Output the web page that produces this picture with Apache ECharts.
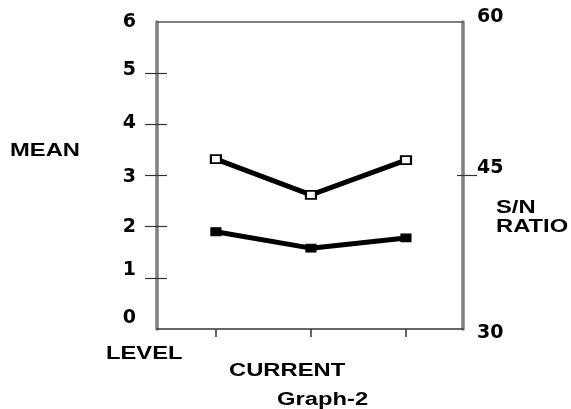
<!DOCTYPE html>
<html>
<head>
<meta charset="utf-8">
<script src="https://cdn.jsdelivr.net/npm/echarts@6/dist/echarts.min.js"></script>
<style>html,body{margin:0;padding:0;background:#fff}#c{width:571px;height:409px}</style>
</head>
<body>
<div id="c"></div>
<script>
// ---- data ----
var levels = [1, 2, 3];                 // current levels (1,2,3)
var meanValues = [1.90, 1.58, 1.78];    // MEAN (left axis, filled markers)
var snValues = [46.6, 43.1, 46.5];      // S/N RATIO (right axis, open squares)
var meanTicks = [1, 2, 3, 4, 5];
var snTicks = [45];

var FONT = '"Liberation Sans", Arial, sans-serif';
var TICKFONT = '"DejaVu Sans", sans-serif';
var chart = echarts.init(document.getElementById('c'), null, {renderer: 'canvas'});

function pairs(xs, ys) { return xs.map(function (x, i) { return [x, ys[i]]; }); }

// per-label vertical nudges (px up)
var leftNudge = {0: 11, 1: 8, 2: 0, 3: -2, 4: 1, 5: 3, 6: 0};
var rightNudge = {30: -4, 45: 7, 60: 5};
function richFor(nudges) {
  var r = {};
  Object.keys(nudges).forEach(function (k) {
    var n = nudges[k];
    r['v' + k] = {
      fontFamily: TICKFONT, fontSize: 19, fontWeight: 'bold', color: '#000',
      padding: n >= 0 ? [0, 0, 2 * n, 0] : [-2 * n, 0, 0, 0]
    };
  });
  return r;
}

var option = {
  backgroundColor: '#fff',
  animation: false,
  grid: {left: 157, right: 108, top: 22, bottom: 80, containLabel: false},
  xAxis: [{
    type: 'value', min: 0.38, max: 3.6, position: 'bottom',
    axisLine: {show: true, onZero: false, lineStyle: {color: '#333', width: 1.5}},
    axisTick: {show: true, customValues: levels, length: 8, lineStyle: {color: '#333', width: 1.5}},
    axisLabel: {show: false},
    splitLine: {show: false}
  }, {
    type: 'value', min: 0.38, max: 3.6, position: 'top',
    axisLine: {show: true, onZero: false, lineStyle: {color: '#555', width: 1.5}},
    axisTick: {show: false}, axisLabel: {show: false}, splitLine: {show: false}
  }],
  yAxis: [{
    type: 'value', min: 0, max: 6, interval: 1, position: 'left',
    axisLine: {show: true, onZero: false, lineStyle: {color: '#808080', width: 3.5}},
    axisTick: {show: true, customValues: meanTicks, length: 12, lineStyle: {color: '#333', width: 1.2}},
    axisLabel: {
      show: true, margin: 21, align: 'right',
      fontFamily: TICKFONT, fontSize: 19, fontWeight: 'bold', color: '#000',
      formatter: function (v) { return '{v' + v + '|' + v + '}'; },
      rich: richFor(leftNudge)
    },
    splitLine: {show: false}
  }, {
    type: 'value', min: 0, max: 6, interval: 1, position: 'left',
    axisLine: {show: false},
    axisTick: {show: true, inside: true, customValues: meanTicks, length: 10, lineStyle: {color: '#333', width: 1.2}},
    axisLabel: {show: false}, splitLine: {show: false}
  }, {
    type: 'value', min: 30, max: 60, interval: 15, position: 'right',
    axisLine: {show: true, onZero: false, lineStyle: {color: '#808080', width: 3.5}},
    axisTick: {show: true, customValues: snTicks, length: 14, lineStyle: {color: '#333', width: 1.2}},
    axisLabel: {
      show: true, margin: 14, align: 'left',
      fontFamily: TICKFONT, fontSize: 19, fontWeight: 'bold', color: '#000',
      formatter: function (v) { return '{v' + v + '|' + v + '}'; },
      rich: richFor(rightNudge)
    },
    splitLine: {show: false}
  }, {
    type: 'value', min: 30, max: 60, interval: 15, position: 'right',
    axisLine: {show: false},
    axisTick: {show: true, inside: true, customValues: snTicks, length: 6, lineStyle: {color: '#333', width: 1.2}},
    axisLabel: {show: false}, splitLine: {show: false}
  }],
  series: [{
    name: 'S/N RATIO', type: 'line', xAxisIndex: 0, yAxisIndex: 2,
    data: pairs(levels, snValues),
    lineStyle: {color: '#000', width: 5},
    symbol: 'rect', symbolSize: [10, 8], showSymbol: true,
    itemStyle: {color: '#fff', borderColor: '#000', borderWidth: 2},
    z: 5
  }, {
    name: 'MEAN', type: 'line', xAxisIndex: 0, yAxisIndex: 0,
    data: pairs(levels, meanValues),
    lineStyle: {color: '#000', width: 5},
    symbol: 'rect', symbolSize: [10, 8], showSymbol: true,
    itemStyle: {color: '#000', borderColor: '#000', borderWidth: 1},
    z: 5
  }],
  graphic: [
    {type: 'text', x: 10, y: 151, scaleX: 1.32, style: {text: 'MEAN', font: 'bold 18px ' + FONT, fill: '#000', textAlign: 'left', textVerticalAlign: 'middle'}},
    {type: 'text', x: 106, y: 354, scaleX: 1.32, style: {text: 'LEVEL', font: 'bold 18px ' + FONT, fill: '#000', textAlign: 'left', textVerticalAlign: 'middle'}},
    {type: 'text', x: 229, y: 371, scaleX: 1.32, style: {text: 'CURRENT', font: 'bold 18px ' + FONT, fill: '#000', textAlign: 'left', textVerticalAlign: 'middle'}},
    {type: 'text', x: 277, y: 400, scaleX: 1.32, style: {text: 'Graph-2', font: 'bold 18px ' + FONT, fill: '#000', textAlign: 'left', textVerticalAlign: 'middle'}},
    {type: 'text', x: 496, y: 208, scaleX: 1.32, style: {text: 'S/N', font: 'bold 18px ' + FONT, fill: '#000', textAlign: 'left', textVerticalAlign: 'middle'}},
    {type: 'text', x: 496, y: 227, scaleX: 1.32, style: {text: 'RATIO', font: 'bold 18px ' + FONT, fill: '#000', textAlign: 'left', textVerticalAlign: 'middle'}}
  ]
};
chart.setOption(option);
</script>
</body>
</html>
